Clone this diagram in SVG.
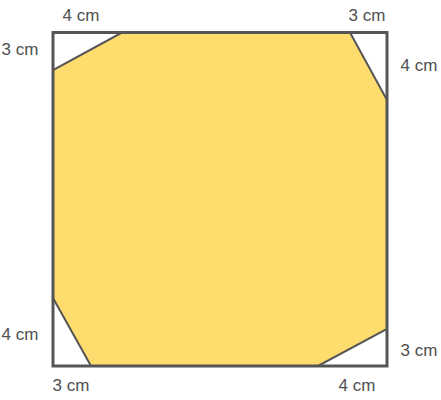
<svg xmlns="http://www.w3.org/2000/svg" width="441" height="400" viewBox="0 0 441 400">
<style>
.lbl{font-family:"Liberation Sans",Arial,sans-serif;font-size:17px;fill:#505050}
.edge{fill:none;stroke:#555;stroke-width:3}
</style>
<rect width="441" height="400" fill="#fff"/>
<g id="octagon">
<polygon points="122,32.5 350,32.5 387,100 387,329 318,366 91,366 53,298 53,70" fill="#ffdc6e" stroke="#555" stroke-width="2"/>
</g>
<g id="square">
<rect x="53" y="32.5" width="334" height="333.5" class="edge"/>
</g>
<g id="labels">
<text class="lbl" x="81" y="21" text-anchor="middle">4 cm</text>
<text class="lbl" x="367" y="21" text-anchor="middle">3 cm</text>
<text class="lbl" x="20" y="55" text-anchor="middle">3 cm</text>
<text class="lbl" x="419" y="71" text-anchor="middle">4 cm</text>
<text class="lbl" x="20" y="340" text-anchor="middle">4 cm</text>
<text class="lbl" x="419" y="356" text-anchor="middle">3 cm</text>
<text class="lbl" x="71" y="391" text-anchor="middle">3 cm</text>
<text class="lbl" x="357" y="391" text-anchor="middle">4 cm</text>
</g>
</svg>
